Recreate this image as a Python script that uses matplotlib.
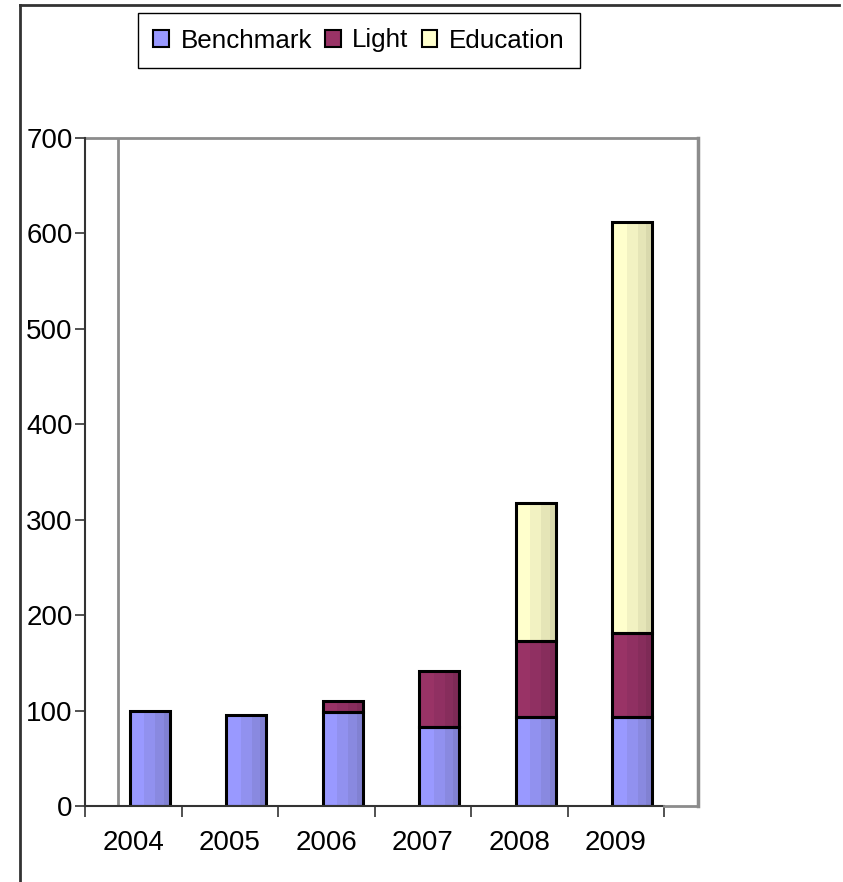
import matplotlib.pyplot as plt
from matplotlib.patches import Patch
from matplotlib.lines import Line2D

plt.rcParams['font.family'] = ['Liberation Sans', 'DejaVu Sans']

## data
years = ['2004', '2005', '2006', '2007', '2008', '2009']
benchmark = [100, 95, 98, 83, 93, 93]
light = [0, 0, 12, 58, 80, 88]
education = [0, 0, 0, 0, 144, 431]
series_names = ['Benchmark', 'Light', 'Education']

## shaded bands, light on the left and darker on the right
shades = {
    'Benchmark': ['#9999FF', '#9191EF', '#8989E0', '#8181D2'],
    'Light': ['#993366', '#903062', '#872D5C', '#7E2A56'],
    'Education': ['#FFFFCC', '#F2F2C2', '#E5E5B7', '#D9D9AD'],
}
band_frac = [0.37, 0.27, 0.21, 0.15]

fig = plt.figure(figsize=[8.43, 8.82], dpi=100)
ax = fig.add_axes([85 / 843, 1 - 806 / 882, (698 - 85) / 843, (806 - 138) / 882])

offset = 0.17
width = 0.415
bottom = [0] * len(years)
for name, vals in zip(series_names, [benchmark, light, education]):
    for i, v in enumerate(vals):
        if v <= 0:
            continue
        left = i + offset - width / 2
        x0 = left
        for frac, c in zip(band_frac, shades[name]):
            ax.bar(x0, v, width=width * frac, bottom=bottom[i], color=c,
                   align='edge', linewidth=0, zorder=2)
            x0 += width * frac
        ax.bar(left, v, width=width, bottom=bottom[i], fill=False,
               edgecolor='black', linewidth=2.2, align='edge', zorder=3)
        bottom[i] += v

ax.set_xlim(-0.5, 5.852)
ax.set_ylim(0, 700)

for s in ax.spines.values():
    s.set_visible(False)
gray = '#8c8c8c'
ax.plot([-0.5, -0.5], [0, 700], color='#333333', lw=1.5, clip_on=False, zorder=4)
ax.plot([-0.5, 5.5], [0, 0], color='#333333', lw=1.5, clip_on=False, zorder=4)
ax.plot([5.5, 5.852], [0, 0], color=gray, lw=2, clip_on=False, zorder=4)
ax.plot([-0.5, 5.852], [700, 700], color=gray, lw=2, clip_on=False, zorder=1)
ax.plot([5.852, 5.852], [0, 700], color=gray, lw=2.5, clip_on=False, zorder=1)
ax.plot([-0.158, -0.158], [0, 700], color=gray, lw=2, zorder=1)

ax.set_yticks(range(0, 701, 100))
ax.tick_params(axis='y', direction='out', length=7, width=1.2, color='#333333',
               labelsize=20, pad=2)
ax.set_xticks(range(len(years)))
ax.set_xticklabels(years)
ax.set_xticks([i - 0.5 for i in range(len(years) + 1)], minor=True)
ax.tick_params(axis='x', which='major', length=0, labelsize=20, pad=17)
ax.tick_params(axis='x', which='minor', direction='out', length=8, width=1.2,
               color='#333333')

## outer chart frame (left and top edges)
fig.add_artist(Line2D([20 / 843, 20 / 843], [0, 1 - 5 / 882], color='#333333', lw=2))
fig.add_artist(Line2D([20 / 843, 839 / 843], [1 - 5 / 882, 1 - 5 / 882], color='#333333', lw=2))

handles = [Patch(facecolor=shades[n][0], edgecolor='black', linewidth=1.5) for n in series_names]
fig.legend(handles, series_names, loc='center', bbox_to_anchor=(359 / 843, 1 - 40.5 / 882),
           ncol=3, fancybox=False, edgecolor='black', framealpha=1, fontsize=18.7,
           handlelength=0.6, handleheight=0.6, handletextpad=0.45, columnspacing=0.5,
           borderpad=0.6, borderaxespad=0)

plt.savefig('out.png', dpi=100)
